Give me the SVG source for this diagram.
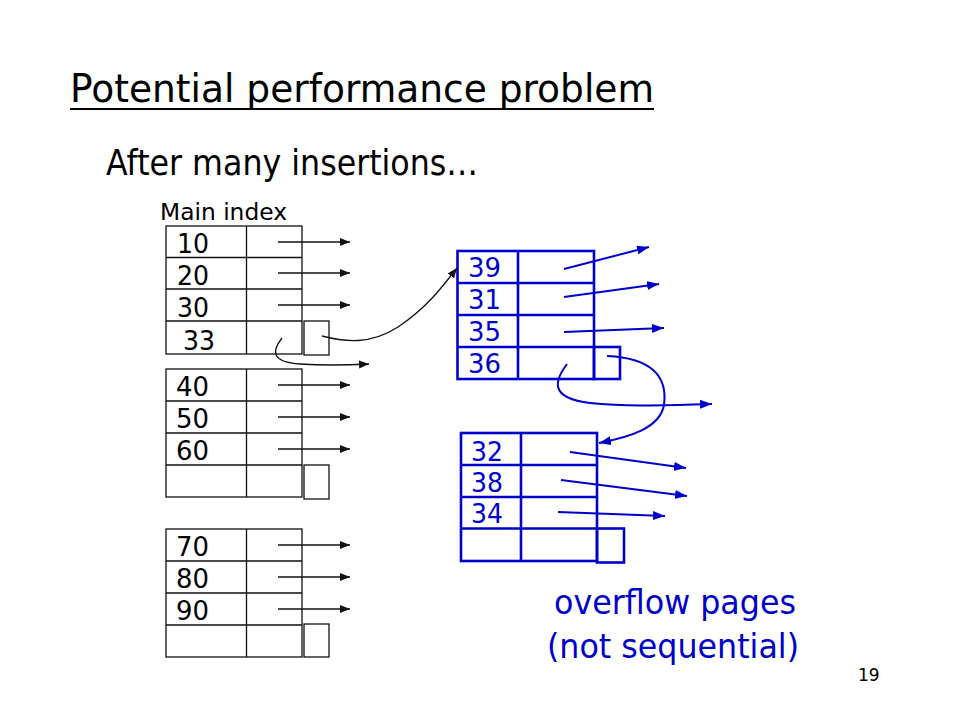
<svg xmlns="http://www.w3.org/2000/svg" width="960" height="720" viewBox="0 0 960 720">
<style>
text{font-family:"DejaVu Sans","Noto Sans",sans-serif}
.bk{fill:none;stroke:#111;stroke-width:1.3}
.bl{fill:none;stroke:#0000CC;stroke-width:2.6}
.num{font-size:27px;fill:#000}
.bnum{font-size:26.5px;fill:#0000CC}
.ca{fill:none;stroke:#111;stroke-width:1.3;marker-end:url(#ah)}
.cb{fill:none;stroke:#0000CC;stroke-width:2;marker-end:url(#bh)}
</style>
<defs>
<marker id="ah" viewBox="0 0 10 8" refX="10" refY="4" markerWidth="10" markerHeight="8" markerUnits="userSpaceOnUse" orient="auto"><path d="M0,0 L10,4 L0,8 Z" fill="#111"/></marker>
<marker id="bh" viewBox="0 0 12 9" refX="12" refY="4.5" markerWidth="12" markerHeight="9" markerUnits="userSpaceOnUse" orient="auto"><path d="M0,0 L12,4.5 L0,9 Z" fill="#0000CC"/></marker>
</defs>
<rect width="960" height="720" fill="#fff"/>
<g id="title">
<text x="70" y="102" font-size="39" textLength="584" lengthAdjust="spacingAndGlyphs">Potential performance problem</text>
<line x1="70" y1="109" x2="654" y2="109" stroke="#000" stroke-width="2"/>
<text x="106" y="175" font-size="36" textLength="372" lengthAdjust="spacingAndGlyphs">After many insertions…</text>
<text x="160" y="220" font-size="23" textLength="127" lengthAdjust="spacingAndGlyphs">Main index</text>
</g>
<g id="block1">
<rect class="bk" x="166" y="226" width="136" height="128"/>
<path class="bk" d="M166 257.5H302M166 289H302M166 321H302M246.5 226V354"/>
<rect class="bk" x="304" y="321" width="25" height="34"/>
<text class="num" x="177" y="253" textLength="32" lengthAdjust="spacingAndGlyphs">10</text>
<text class="num" x="177" y="285" textLength="32" lengthAdjust="spacingAndGlyphs">20</text>
<text class="num" x="177" y="317" textLength="32" lengthAdjust="spacingAndGlyphs">30</text>
<text class="num" x="183" y="350" textLength="32" lengthAdjust="spacingAndGlyphs">33</text>
</g>
<g id="block2">
<rect class="bk" x="166" y="369" width="136" height="128"/>
<path class="bk" d="M166 401H302M166 433H302M166 465H302M246.5 369V497"/>
<rect class="bk" x="304" y="465" width="25" height="34"/>
<text class="num" x="176" y="396" textLength="33" lengthAdjust="spacingAndGlyphs">40</text>
<text class="num" x="176" y="428" textLength="33" lengthAdjust="spacingAndGlyphs">50</text>
<text class="num" x="176" y="460" textLength="33" lengthAdjust="spacingAndGlyphs">60</text>
</g>
<g id="block3">
<rect class="bk" x="166" y="529" width="136" height="128"/>
<path class="bk" d="M166 561H302M166 593H302M166 625H302M246.5 529V657"/>
<rect class="bk" x="304" y="624" width="25" height="33"/>
<text class="num" x="176" y="556" textLength="33" lengthAdjust="spacingAndGlyphs">70</text>
<text class="num" x="176" y="588" textLength="33" lengthAdjust="spacingAndGlyphs">80</text>
<text class="num" x="176" y="620" textLength="33" lengthAdjust="spacingAndGlyphs">90</text>
</g>
<g id="overflow1">
<rect class="bl" x="457.5" y="251" width="136.5" height="128"/>
<path class="bl" d="M457.5 283H594M457.5 315H594M457.5 347H594M518 251V379"/>
<rect class="bl" x="594" y="347" width="26" height="32"/>
<text class="bnum" x="468" y="277" textLength="33" lengthAdjust="spacingAndGlyphs">39</text>
<text class="bnum" x="468" y="309" textLength="33" lengthAdjust="spacingAndGlyphs">31</text>
<text class="bnum" x="468" y="341" textLength="33" lengthAdjust="spacingAndGlyphs">35</text>
<text class="bnum" x="468" y="373" textLength="33" lengthAdjust="spacingAndGlyphs">36</text>
</g>
<g id="overflow2">
<rect class="bl" x="461" y="433" width="136" height="128"/>
<path class="bl" d="M461 465H597M461 497H597M461 528.5H597M521 433V561"/>
<rect class="bl" x="597" y="528.5" width="27" height="34"/>
<text class="bnum" x="471" y="461" textLength="32" lengthAdjust="spacingAndGlyphs">32</text>
<text class="bnum" x="471" y="492" textLength="32" lengthAdjust="spacingAndGlyphs">38</text>
<text class="bnum" x="471" y="523" textLength="32" lengthAdjust="spacingAndGlyphs">34</text>
</g>
<g id="labels">
<text x="554" y="614" font-size="33" fill="#0000CC" textLength="242" lengthAdjust="spacingAndGlyphs">overflow pages</text>
<text x="547" y="658" font-size="33" fill="#0000CC" textLength="252" lengthAdjust="spacingAndGlyphs">(not sequential)</text>
<text x="858" y="681" font-size="17" fill="#000">19</text>
</g>
<g id="connectors">
<path class="ca" d="M278 242H350"/>
<path class="ca" d="M278 273H350"/>
<path class="ca" d="M278 305H350"/>
<path class="ca" d="M278 385H350"/>
<path class="ca" d="M278 417H350"/>
<path class="ca" d="M278 449H350"/>
<path class="ca" d="M278 545H350"/>
<path class="ca" d="M278 577H350"/>
<path class="ca" d="M278 609H350"/>
<path class="ca" d="M322 336C345 342 370 345 398 327C425 309 440 290 457 268"/>
<path class="ca" d="M282 338C271 352 272 362 300 364C330 366 350 365 369 364"/>
<path class="cb" d="M564 269L649 247"/>
<path class="cb" d="M564 297L659 284"/>
<path class="cb" d="M564 332L664 328"/>
<path class="cb" d="M567 364C555 380 548 398 590 403C630 407 670 405 712 404"/>
<path class="cb" d="M607 356C650 358 668 375 664 405C660 428 630 437 599 443"/>
<path class="cb" d="M570 452L686 468"/>
<path class="cb" d="M561 480L687 496"/>
<path class="cb" d="M558 512L665 516"/>
</g>
</svg>
